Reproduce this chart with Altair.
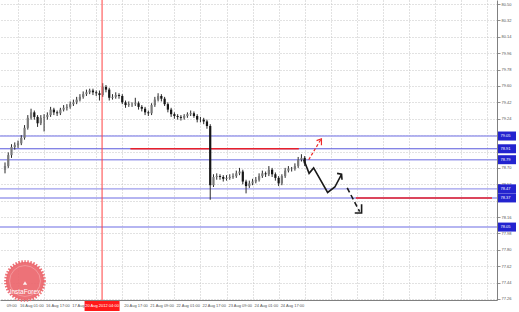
import altair as alt
import pandas as pd

# ---- candles (USD/JPY) ----
opens = [78.68, 78.72, 78.84, 78.93, 78.95, 78.97, 79.03, 79.14, 79.25, 79.31,
         79.26, 79.19, 79.25, 79.26, 79.28, 79.34, 79.31, 79.30, 79.34, 79.36,
         79.37, 79.40, 79.42, 79.45, 79.48, 79.51, 79.53, 79.55, 79.53, 79.52,
         79.50, 79.59, 79.56, 79.47, 79.48, 79.50, 79.49, 79.42, 79.39, 79.40,
         79.40, 79.41, 79.37, 79.35, 79.31, 79.30, 79.39, 79.45, 79.49, 79.46,
         79.40, 79.34, 79.29, 79.27, 79.26, 79.25, 79.27, 79.29, 79.30, 79.27,
         79.23, 79.23, 79.21, 79.16, 78.51, 78.60, 78.61, 78.60, 78.58, 78.59,
         78.60, 78.61, 78.64, 78.66, 78.55, 78.50, 78.53, 78.55, 78.57, 78.61,
         78.64, 78.63, 78.68, 78.63, 78.59, 78.53, 78.61, 78.67, 78.69, 78.69,
         78.72, 78.79, 78.81]
closes = [78.72, 78.84, 78.93, 78.95, 78.97, 79.03, 79.14, 79.25, 79.31, 79.26,
          79.19, 79.25, 79.26, 79.28, 79.34, 79.31, 79.30, 79.34, 79.36, 79.37,
          79.40, 79.42, 79.45, 79.48, 79.51, 79.53, 79.55, 79.53, 79.52, 79.50,
          79.59, 79.56, 79.47, 79.48, 79.50, 79.49, 79.42, 79.39, 79.40, 79.40,
          79.41, 79.37, 79.35, 79.31, 79.30, 79.39, 79.45, 79.49, 79.46, 79.40,
          79.34, 79.29, 79.27, 79.26, 79.25, 79.27, 79.29, 79.30, 79.27, 79.23,
          79.23, 79.21, 79.16, 78.51, 78.60, 78.61, 78.60, 78.58, 78.59, 78.60,
          78.61, 78.64, 78.66, 78.55, 78.50, 78.53, 78.55, 78.57, 78.61, 78.64,
          78.63, 78.68, 78.63, 78.59, 78.53, 78.61, 78.67, 78.69, 78.69, 78.72,
          78.79, 78.81, 78.75]
highs = [78.76, 78.87, 78.96, 78.98, 79.00, 79.06, 79.17, 79.28, 79.35, 79.33,
         79.28, 79.28, 79.29, 79.31, 79.37, 79.36, 79.33, 79.36, 79.39, 79.40,
         79.43, 79.45, 79.48, 79.51, 79.54, 79.56, 79.57, 79.57, 79.55, 79.55,
         79.63, 79.61, 79.58, 79.51, 79.53, 79.52, 79.51, 79.44, 79.43, 79.42,
         79.47, 79.43, 79.39, 79.37, 79.33, 79.41, 79.48, 79.52, 79.51, 79.48,
         79.42, 79.36, 79.31, 79.29, 79.28, 79.29, 79.31, 79.33, 79.32, 79.29,
         79.26, 79.25, 79.23, 79.18, 78.63, 78.64, 78.63, 78.62, 78.62, 78.63,
         78.64, 78.67, 78.70, 78.68, 78.57, 78.56, 78.58, 78.60, 78.64, 78.67,
         78.66, 78.72, 78.70, 78.65, 78.61, 78.63, 78.70, 78.72, 78.71, 78.75,
         78.82, 78.85, 78.83]
lows = [78.64, 78.70, 78.81, 78.90, 78.92, 78.95, 79.01, 79.12, 79.23, 79.23,
        79.15, 79.17, 79.10, 79.23, 79.26, 79.28, 79.27, 79.28, 79.32, 79.33,
        79.35, 79.38, 79.40, 79.43, 79.46, 79.49, 79.51, 79.50, 79.49, 79.44,
        79.48, 79.53, 79.44, 79.45, 79.46, 79.46, 79.40, 79.36, 79.37, 79.37,
        79.38, 79.34, 79.32, 79.28, 79.27, 79.28, 79.37, 79.43, 79.43, 79.38,
        79.31, 79.26, 79.24, 79.23, 79.22, 79.23, 79.25, 79.27, 79.25, 79.20,
        79.20, 79.18, 79.13, 78.35, 78.49, 78.57, 78.57, 78.55, 78.56, 78.57,
        78.58, 78.59, 78.62, 78.52, 78.42, 78.48, 78.51, 78.53, 78.55, 78.59,
        78.60, 78.61, 78.60, 78.56, 78.50, 78.51, 78.59, 78.65, 78.66, 78.67,
        78.70, 78.77, 78.72]

# ---- axes ----
y_ticks = [80.50, 80.32, 80.14, 79.96, 79.78, 79.60, 79.42, 79.24, 79.06, 78.88,
           78.70, 78.52, 78.34, 78.16, 77.98, 77.80, 77.62, 77.44, 77.26]
y_labels_hidden = [79.06, 78.88, 78.34]   # covered by the level boxes
x_grid = [4, 12, 20, 28, 36, 44, 52, 60, 68, 76, 84, 92, 100, 108, 116, 124, 132, 140, 148]
x_label_pos = [-0.1, 4, 12, 20, 36, 44, 52, 60, 68, 76, 84]
x_label_text = ["09:00", "16 Aug 01:00", "16 Aug 17:00", "17 Aug",
                "20 Aug 17:00", "21 Aug 09:00", "22 Aug 01:00",
                "22 Aug 17:00", "23 Aug 09:00", "24 Aug 01:00", "24 Aug 17:00"]

# ---- levels & annotations ----
level_prices = [79.05, 78.91, 78.79, 78.47, 78.37, 78.05]
level_kind = ["light", "dark", "light", "light", "light", "light"]
red_level_price = [78.91, 78.37]
red_level_start = [38.5, 107.7]
red_level_end = [90.2, 149.5]
marker_pos = [29.8]
marker_text = ["20 Aug 2012 04:00"]

arrow_id = ["b"] * 6 + ["bh"] * 3 + ["d"] * 2 + ["dh"] * 3 + ["r"] * 2 + ["rh"] * 3
arrow_x = [91.73, 93.35, 94.74, 99.04, 101.26, 103.31,
           101.95, 103.31, 103.46,
           105.05, 108.87,
           107.37, 109.47, 109.47,
           93.23, 96.93,
           95.64, 97.14, 97.14]
arrow_y = [78.79, 78.64, 78.70, 78.43, 78.49, 78.63,
           78.64, 78.63, 78.57,
           78.48, 78.22,
           78.205, 78.205, 78.30,
           78.79, 79.01,
           79.00, 79.02, 78.95]

FONT = "Liberation Sans"
XS = alt.Scale(domain=[0, 149.5], nice=False, zero=False)
YS = alt.Scale(domain=[77.249, 80.544], nice=False, zero=False)
hidden_expr = " || ".join("abs(datum.value - %s) < 0.001" % v for v in y_labels_hidden)
AX = alt.Axis(title=None, values=x_grid, labels=False, ticks=False, grid=True,
              gridDash=[1, 2], gridColor="#c4c4c4", domainColor="#808080", orient="bottom")
AY = alt.Axis(title=None, values=y_ticks, orient="right", grid=True,
              labelExpr="(%s) ? '' : format(datum.value, '.2f')" % hidden_expr,
              gridDash=[1, 2], gridColor="#c4c4c4", domainColor="#808080",
              tickColor="#909090", tickSize=3, labelFontSize=4, labelFont=FONT,
              labelColor="#555555", labelPadding=1, labelOverlap=False, zindex=0)

candles = pd.DataFrame({"i": list(range(len(closes))), "o": opens, "c": closes,
                        "hi": highs, "lo": lows})
levels = pd.DataFrame({"p": level_prices, "k": level_kind})
redlv = pd.DataFrame({"p": red_level_price, "s": red_level_start, "e": red_level_end})
arrows = pd.DataFrame({"id": arrow_id, "x": arrow_x, "y": arrow_y,
                       "ord": list(range(len(arrow_x)))})
xlab = pd.DataFrame({"x": x_label_pos, "t": x_label_text})
marker = pd.DataFrame({"v": marker_pos, "t": marker_text})
one = pd.DataFrame({"a": [0]})

base_grid = alt.Chart(candles).mark_rule(opacity=0).encode(
    x=alt.X("i:Q", scale=XS, axis=AX),
    y=alt.Y("c:Q", scale=YS, axis=AY),
)

lvl_light = alt.Chart(levels).transform_filter("datum.k == 'light'").mark_rule(
    color="#9d9dec", strokeWidth=1.4).encode(y=alt.Y("p:Q", scale=YS, axis=AY))
lvl_dark = alt.Chart(levels).transform_filter("datum.k == 'dark'").mark_rule(
    color="#5858dc", strokeWidth=1).encode(y=alt.Y("p:Q", scale=YS, axis=AY))

red_lines = alt.Chart(redlv).mark_rule(color="#e8202a", strokeWidth=1.6).encode(
    x=alt.X("s:Q", scale=XS, axis=AX), x2="e:Q", y=alt.Y("p:Q", scale=YS, axis=AY))

wicks = alt.Chart(candles).mark_rule(color="#2a2a2a", strokeWidth=1).encode(
    x=alt.X("i:Q", scale=XS, axis=AX), y=alt.Y("lo:Q", scale=YS, axis=AY), y2="hi:Q")
bodies = alt.Chart(candles).mark_bar(width=2.2).encode(
    x=alt.X("i:Q", scale=XS, axis=AX), y=alt.Y("o:Q", scale=YS, axis=AY), y2="c:Q",
    color=alt.condition("datum.c >= datum.o", alt.value("#7a7a7a"), alt.value("#161616")))

vline = alt.Chart(marker).mark_rule(color="#ff4040", strokeWidth=1).encode(
    x=alt.X("v:Q", scale=XS, axis=AX))

def arrow_layer(ids, color, width, dash=None):
    kw = dict(color=color, strokeWidth=width)
    if dash:
        kw["strokeDash"] = dash
    flt = " || ".join("datum.id == '%s'" % s for s in ids)
    return alt.Chart(arrows).transform_filter(flt).mark_line(**kw).encode(
        x=alt.X("x:Q", scale=XS, axis=AX), y=alt.Y("y:Q", scale=YS, axis=AY),
        detail="id:N", order="ord:Q")

arr_black = arrow_layer(["b", "bh", "dh"], "#1a1a1a", 1.6)
arr_dash = arrow_layer(["d"], "#1a1a1a", 1.6, [5, 3])
arr_red = arrow_layer(["r"], "#ee2a2a", 1.2, [3, 2])
arr_redh = arrow_layer(["rh"], "#ee2a2a", 1.2)

boxes = alt.Chart(levels).mark_rect(color="#2323cf", yOffset=-4.5, y2Offset=4.5).encode(
    x=alt.value(498), x2=alt.value(516), y=alt.Y("p:Q", scale=YS, axis=AY), y2="p:Q")
box_txt = alt.Chart(levels).mark_text(align="left", baseline="middle", fontSize=4,
                                      font=FONT, color="white").encode(
    x=alt.value(500.5), y=alt.Y("p:Q", scale=YS, axis=AY),
    text=alt.Text("p:Q", format=".2f"))

xlabels = alt.Chart(xlab).mark_text(align="left", baseline="middle", fontSize=4,
                                    font=FONT, color="#555555", dx=2).encode(
    x=alt.X("x:Q", scale=XS, axis=AX), y=alt.value(306), text="t:N")

mark_box = alt.Chart(marker).mark_rect(color="#ff1a1a", xOffset=-17.5, x2Offset=17.5).encode(
    x=alt.X("v:Q", scale=XS, axis=AX), x2="v:Q", y=alt.value(301), y2=alt.value(311))
mark_txt = alt.Chart(marker).mark_text(align="center", baseline="middle", fontSize=4,
                                       font=FONT, color="white").encode(
    x=alt.X("v:Q", scale=XS, axis=AX), y=alt.value(306), text="t:N")

logo_fill = alt.Chart(one).mark_point(shape="circle", filled=True, size=1450,
                                      color="#ec666c", opacity=0.92).encode(
    x=alt.value(25), y=alt.value(281))
logo_edge = alt.Chart(one).mark_point(shape="circle", filled=False, size=1500,
                                      color="#ec666c", strokeWidth=3,
                                      strokeDash=[1.5, 1.5], opacity=0.92).encode(
    x=alt.value(25), y=alt.value(281))
logo_ring = alt.Chart(one).mark_point(shape="circle", filled=False, size=950,
                                      color="#f7b3b6", strokeWidth=0.8).encode(
    x=alt.value(25), y=alt.value(281))
logo_icon = alt.Chart(one).mark_point(shape="triangle-up", filled=True, size=18,
                                      color="white", opacity=0.9).encode(
    x=alt.value(25), y=alt.value(283))
logo_txt = alt.Chart(pd.DataFrame({"t": ["InstaForex"]})).mark_text(
    align="center", baseline="middle", fontSize=6.5, font=FONT, color="white").encode(
    x=alt.value(25), y=alt.value(292), text="t:N")

chart = alt.layer(
    base_grid, lvl_light, lvl_dark, red_lines, wicks, bodies, vline,
    arr_black, arr_dash, arr_red, arr_redh, boxes, box_txt, xlabels,
    mark_box, mark_txt, logo_fill, logo_edge, logo_ring, logo_icon, logo_txt,
).properties(
    width=497, height=300,
    autosize=alt.AutoSizeParams(type="none"),
    padding={"left": 0, "top": 0, "right": 22, "bottom": 12},
    background="white",
).configure_view(stroke=None)

chart.save("out.html", embed_options={"renderer": "svg", "actions": False})
